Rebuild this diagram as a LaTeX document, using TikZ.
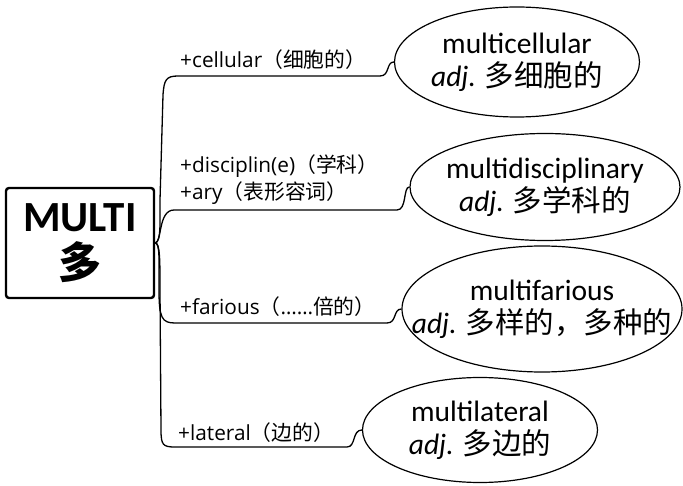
\documentclass[tikz,border=0pt]{standalone}
\usepackage{fontspec}
\setmainfont{Carlito}
\newfontfamily\labfont{Open Sans}
\newfontfamily\cjk{Noto Sans CJK SC}
\usetikzlibrary{shapes.geometric}

\begin{document}
\begin{tikzpicture}[x=1pt, y=-1pt,
  word/.style={draw, ellipse, line width=1.2pt, inner sep=0pt},
  wordtext/.style={align=center, inner sep=0pt, font=\fontsize{29.5}{33}\selectfont},
  affix/.style={anchor=base west, inner sep=0pt, font=\labfont\fontsize{20.8}{24}\selectfont},
  branch/.style={line width=1.3pt}]
\useasboundingbox (0,0) rectangle (683,486);
% root
\node[draw, line width=2.4pt, rounded corners=3pt, minimum width=148pt, minimum height=110pt,
  align=center, font=\bfseries\fontsize{43}{47}\selectfont] (root) at (80,243) {MULTI\\{\cjk 多}};
% words
\node[word, minimum width=245pt, minimum height=110pt] (cell) at (517,62) {};
\node[wordtext] (cellT) at (cell) {multicellular\\\textit{adj.} {\cjk 多细胞的}};
\node[word, minimum width=270pt, minimum height=107pt] (disc) at (545,187) {};
\node[wordtext] (discT) at (disc) {multidisciplinary\\\textit{adj.} {\cjk 多学科的}};
\node[word, minimum width=280pt, minimum height=126pt] (far) at (542,309) {};
\node[wordtext] (farT) at (far) {multifarious\\\textit{adj.} {\cjk 多样的，多种的}};
\node[word, minimum width=235pt, minimum height=105pt] (lat) at (480,430) {};
\node[wordtext] (latT) at (lat) {multilateral\\\textit{adj.} {\cjk 多边的}};
% affixes
\node[affix] (lcell) at (180,68) {+cellular{\cjk （细胞的）}};
\node[affix] (ldisc) at (180,173) {+disciplin(e){\cjk （学科）}};
\node[affix] (lary) at (180,200) {+ary{\cjk （表形容词）}};
\node[affix] (lfar) at (180,315) {+farious{\cjk （}……{\cjk 倍的）}};
\node[affix] (llat) at (178,440) {+lateral{\cjk （边的）}};
% branches
\coordinate (b1) at (380,76);
\coordinate (b2) at (397,210);
\coordinate (b3) at (387,323);
\coordinate (b4) at (347,447);
\draw[branch] (root.east) .. controls (161,241) and (160,225) .. (160,200) -- (163,95)
  .. controls (164,80) and (166,76) .. (178,76) -- (b1)
  .. controls (390,76) and (386,62) .. (cell.west);
\draw[branch] (root.east) .. controls (162,243) and (158,210) .. (174,210) -- (b2)
  .. controls (407,210) and (403,187) .. (disc.west);
\draw[branch] (root.east) .. controls (160,243) and (159,260) .. (159,290)
  .. controls (159,318) and (162,323) .. (175,323) -- (b3)
  .. controls (397,323) and (393,309) .. (far.west);
\draw[branch] (root.east) .. controls (160,243) and (160,260) .. (160,290) -- (161,430)
  .. controls (161,445) and (163,447) .. (175,447) -- (b4)
  .. controls (356,447) and (352,430) .. (lat.west);
\end{tikzpicture}
\end{document}
